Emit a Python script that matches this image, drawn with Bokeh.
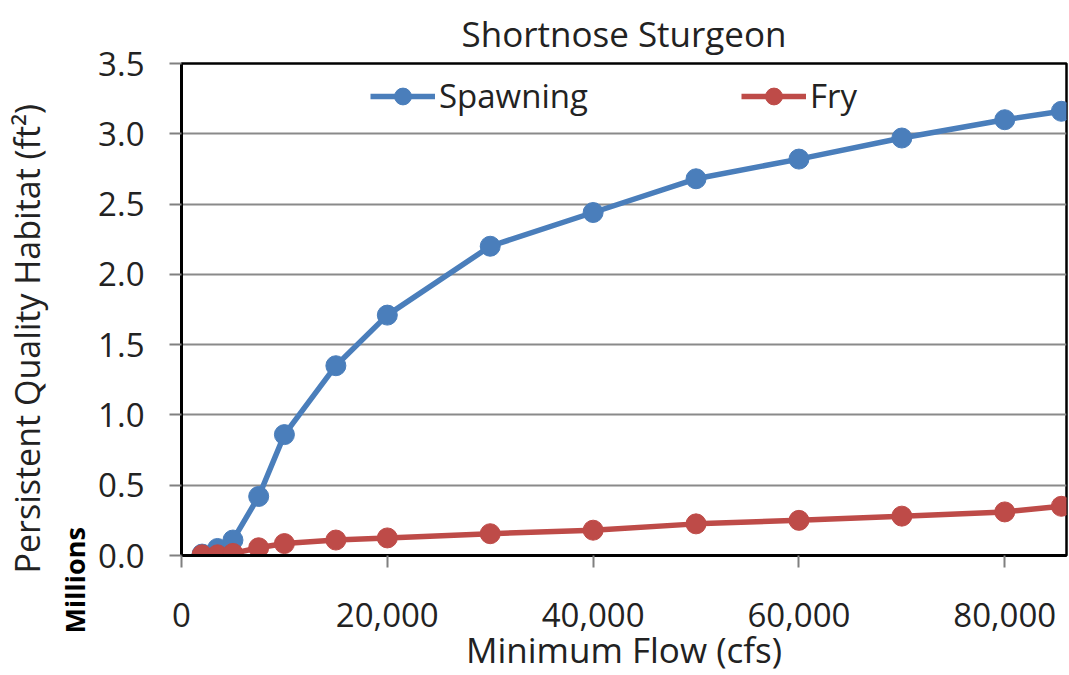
from bokeh.plotting import figure
from bokeh.models import NumeralTickFormatter, FixedTicker, Range1d, Title
from bokeh.embed import file_html
from bokeh.resources import INLINE

flow = [2000, 3500, 5000, 7500, 10000, 15000, 20000, 30000, 40000, 50000, 60000, 70000, 80000, 85500]
spawning = [0.01, 0.05, 0.11, 0.42, 0.86, 1.35, 1.71, 2.20, 2.44, 2.68, 2.82, 2.97, 3.10, 3.16]
fry = [0.005, 0.005, 0.015, 0.055, 0.085, 0.11, 0.125, 0.155, 0.18, 0.225, 0.25, 0.28, 0.31, 0.35]
x_ticks = [0, 20000, 40000, 60000, 80000]
y_ticks = [0.0, 0.5, 1.0, 1.5, 2.0, 2.5, 3.0, 3.5]

FONT = "Open Sans"
BLUE = "#4A7EBB"
RED = "#BE4B48"
TXT = "#222222"

p = figure(width=1069, height=675, output_backend="svg", toolbar_location=None,
           x_range=Range1d(0, 86000), y_range=Range1d(0, 3.5),
           min_border_left=181, min_border_right=3, min_border_top=63, min_border_bottom=0)

p.title.text = "Shortnose Sturgeon"
p.title.align = "center"
p.title.text_font = FONT
p.title.text_font_size = "35px"
p.title.text_font_style = "normal"
p.title.text_color = TXT
p.title.standoff = 14

p.line(flow, spawning, color=BLUE, line_width=5.5, legend_label="Spawning")
p.scatter(flow, spawning, size=20, color=BLUE, legend_label="Spawning")
p.line(flow, fry, color=RED, line_width=5.5, legend_label="Fry")
p.scatter(flow, fry, size=20, color=RED, legend_label="Fry")

p.xgrid.visible = False
p.ygrid.grid_line_color = "#8a8a8a"
p.ygrid.grid_line_width = 2
p.ygrid.ticker = FixedTicker(ticks=y_ticks)

p.outline_line_color = "black"
p.outline_line_width = 2.5
p.outline_line_alpha = 1

for ax in (p.xaxis[0], p.yaxis[0]):
    ax.axis_line_color = "black"
    ax.axis_line_width = 3
    ax.major_tick_line_color = "#808080"
    ax.major_tick_line_width = 2
    ax.major_tick_out = 12
    ax.major_tick_in = 0
    ax.minor_tick_line_color = None
    ax.major_label_text_font = FONT
    ax.major_label_text_font_size = "33px"
    ax.major_label_text_color = TXT
    ax.axis_label_text_font = FONT
    ax.axis_label_text_font_size = "35px"
    ax.axis_label_text_font_style = "normal"
    ax.axis_label_text_color = TXT

p.xaxis.ticker = FixedTicker(ticks=x_ticks)
p.xaxis.formatter = NumeralTickFormatter(format="0,0")
p.xaxis.axis_label = "Minimum Flow (cfs)"
p.xaxis.major_label_standoff = 35
p.xaxis.axis_label_standoff = -4

p.yaxis.ticker = FixedTicker(ticks=y_ticks)
p.yaxis.formatter = NumeralTickFormatter(format="0.0")
p.yaxis.major_label_standoff = 25

millions = Title(text="Millions", align="left", offset=-78, standoff=6,
                 text_font=FONT, text_font_size="27px", text_font_style="bold",
                 text_color="black")
p.add_layout(millions, "left")
ylab = Title(text="Persistent Quality Habitat (ft²)", align="left", offset=-18, standoff=2,
             text_font=FONT, text_font_size="34px", text_font_style="normal",
             text_color=TXT)
p.add_layout(ylab, "left")

lg = p.legend[0]
lg.orientation = "horizontal"
lg.location = (189, 437)
lg.border_line_color = None
lg.background_fill_alpha = 0
lg.label_text_font = FONT
lg.label_text_font_size = "33px"
lg.label_text_color = TXT
lg.glyph_width = 65
lg.glyph_height = 42
lg.label_standoff = 4
lg.spacing = 153
lg.padding = 0
lg.margin = 0

open("out.html", "w").write(file_html(p, INLINE))
